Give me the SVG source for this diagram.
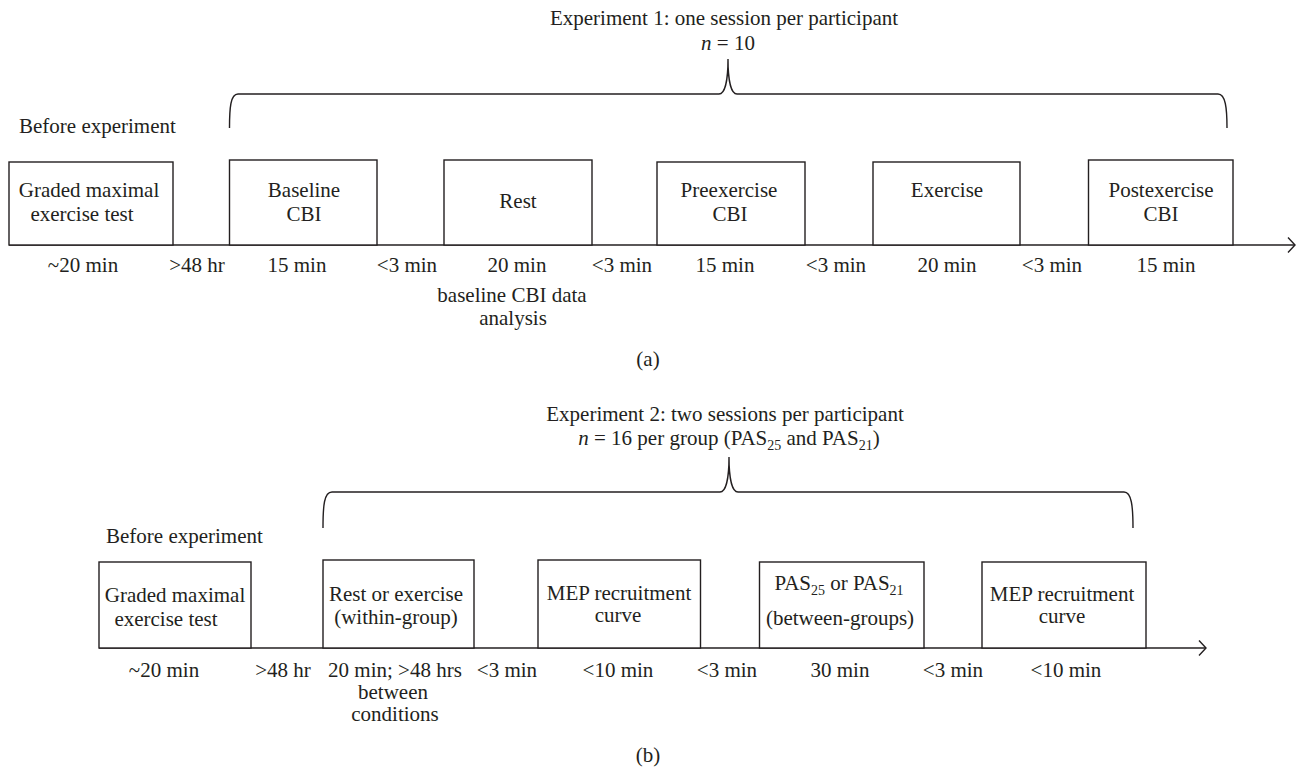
<svg xmlns="http://www.w3.org/2000/svg" width="1298" height="769" viewBox="0 0 1298 769">
<style>
text{font-family:"Liberation Serif","Times New Roman",serif;font-size:21px;fill:#231f20}
.m{text-anchor:middle}
.box{fill:#fff;stroke:#231f20;stroke-width:1.4}
.ln{fill:none;stroke:#231f20;stroke-width:1.4}
.sub{font-size:14px}
</style>
<rect width="1298" height="769" fill="#fff"/>
<g id="panel-a">
<text class="m" x="724" y="25">Experiment 1: one session per participant</text>
<text class="m" x="728" y="50"><tspan font-style="italic">n</tspan> = 10</text>
<text x="19" y="133">Before experiment</text>
<g id="a-connectors">
<path class="ln" d="M229.5,128 C229.5,108 230.5,94 238,94 L719,94 C725,94 728,80 728,59 C728,80 731,94 737,94 L1218,94 C1225.5,94 1227,108 1227,128"/>
<path class="ln" d="M9,245 L1295,245"/>
<path class="ln" d="M1288,237.5 L1295,245 L1288,252.5"/>
</g>
<g id="a-graded"><rect class="box" x="9" y="162" width="164" height="83"/><text class="m" x="89" y="197">Graded maximal</text><text class="m" x="82" y="221">exercise test</text></g>
<g id="a-baseline"><rect class="box" x="229.5" y="160" width="147.5" height="85"/><text class="m" x="304" y="197">Baseline</text><text class="m" x="304" y="221">CBI</text></g>
<g id="a-rest"><rect class="box" x="444" y="160" width="148" height="85"/><text class="m" x="518" y="208">Rest</text></g>
<g id="a-pre"><rect class="box" x="657" y="162" width="148" height="83"/><text class="m" x="729" y="197">Preexercise</text><text class="m" x="730" y="221">CBI</text></g>
<g id="a-exercise"><rect class="box" x="873" y="162" width="147" height="83"/><text class="m" x="947" y="197">Exercise</text></g>
<g id="a-post"><rect class="box" x="1088.5" y="160" width="144.5" height="85"/><text class="m" x="1161" y="197">Postexercise</text><text class="m" x="1161" y="221">CBI</text></g>
<g id="a-times">
<text class="m" x="83" y="272">~20 min</text>
<text class="m" x="197" y="272">&gt;48 hr</text>
<text class="m" x="297" y="272">15 min</text>
<text class="m" x="407" y="272">&lt;3 min</text>
<text class="m" x="517" y="272">20 min</text>
<text class="m" x="622" y="272">&lt;3 min</text>
<text class="m" x="725" y="272">15 min</text>
<text class="m" x="836" y="272">&lt;3 min</text>
<text class="m" x="947" y="272">20 min</text>
<text class="m" x="1052" y="272">&lt;3 min</text>
<text class="m" x="1166" y="272">15 min</text>
<text class="m" x="512" y="302">baseline CBI data</text>
<text class="m" x="513" y="325">analysis</text>
</g>
<text class="m" x="648" y="366">(a)</text>
</g>
<g id="panel-b">
<text class="m" x="725" y="421">Experiment 2: two sessions per participant</text>
<text class="m" x="729" y="445"><tspan font-style="italic">n</tspan> = 16 per group (PAS<tspan class="sub" dy="5">25</tspan><tspan dy="-5"> and PAS</tspan><tspan class="sub" dy="5">21</tspan><tspan dy="-5">)</tspan></text>
<text x="106" y="543">Before experiment</text>
<g id="b-connectors">
<path class="ln" d="M323,528 C323,506 324,492 332,492 L720,492 C726,492 729,478 729,457 C729,478 732,492 738,492 L1124,492 C1131.5,492 1133,506 1133,528"/>
<path class="ln" d="M99,648 L1206,648"/>
<path class="ln" d="M1199,640.5 L1206,648 L1199,655.5"/>
</g>
<g id="b-graded"><rect class="box" x="99" y="562" width="152" height="86"/><text class="m" x="175" y="602">Graded maximal</text><text class="m" x="166" y="626">exercise test</text></g>
<g id="b-rest"><rect class="box" x="323" y="560" width="151" height="88"/><text class="m" x="396" y="601">Rest or exercise</text><text class="m" x="396" y="624">(within-group)</text></g>
<g id="b-mep1"><rect class="box" x="538" y="560" width="162.5" height="88"/><text class="m" x="619" y="600">MEP recruitment</text><text class="m" x="618" y="622">curve</text></g>
<g id="b-pas"><rect class="box" x="759.5" y="562" width="164.5" height="86"/><text class="m" x="839" y="590">PAS<tspan class="sub" dy="5">25</tspan><tspan dy="-5"> or PAS</tspan><tspan class="sub" dy="5">21</tspan></text><text class="m" x="840" y="625">(between-groups)</text></g>
<g id="b-mep2"><rect class="box" x="982" y="562" width="164" height="86"/><text class="m" x="1062" y="601">MEP recruitment</text><text class="m" x="1062" y="623">curve</text></g>
<g id="b-times">
<text class="m" x="164" y="677">~20 min</text>
<text class="m" x="283" y="677">&gt;48 hr</text>
<text class="m" x="395" y="677">20 min; &gt;48 hrs</text>
<text class="m" x="507" y="677">&lt;3 min</text>
<text class="m" x="618" y="677">&lt;10 min</text>
<text class="m" x="727" y="677">&lt;3 min</text>
<text class="m" x="840" y="677">30 min</text>
<text class="m" x="953" y="677">&lt;3 min</text>
<text class="m" x="1066" y="677">&lt;10 min</text>
<text class="m" x="393" y="699">between</text>
<text class="m" x="395" y="721">conditions</text>
</g>
<text class="m" x="648" y="762">(b)</text>
</g>
</svg>
